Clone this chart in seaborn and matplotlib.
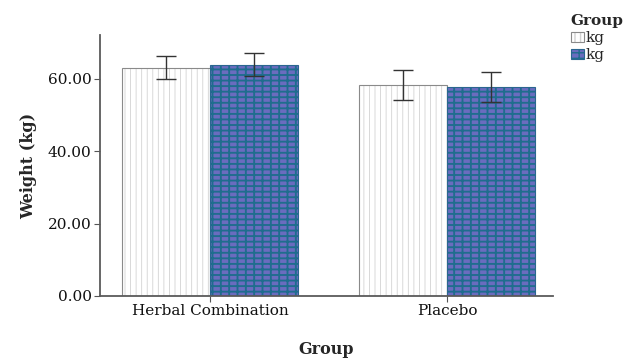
import pandas as pd
import matplotlib.pyplot as plt
import seaborn as sns
from matplotlib.colors import to_rgba
from matplotlib.ticker import FormatStrFormatter

groups = ["Herbal Combination", "Placebo"]
series = ["kg (1)", "kg (2)"]
legend_labels = ["kg", "kg"]
means_1 = [63.0, 58.3]
means_2 = [63.8, 57.6]
errs_1 = [3.1, 4.2]
errs_2 = [3.2, 4.1]


def plot_data():
  rows = []
  for g, m1, m2 in zip(groups, means_1, means_2):
    rows.append({"Group": g, "Series": series[0], "Weight": m1})
    rows.append({"Group": g, "Series": series[1], "Weight": m2})
  df = pd.DataFrame(rows)

  sns.set_style("white")
  plt.rcParams['font.family'] = ['DejaVu Serif']

  fig = plt.figure(figsize=(6.27, 3.58), dpi=100)
  ax = fig.add_axes([0.1595, 0.1732, 0.7225, 0.7288])

  sns.barplot(data=df, x="Group", y="Weight", hue="Series", hue_order=series,
              palette=["white", "#5c5ecd"], errorbar=None, width=0.742,
              gap=0, legend=False, ax=ax)

  # fill patterns: light dotted lines on white bars, teal grid on blue bars
  styles = [("#8a8a8a", "|||", "#d2d2d2", 0.6),
            ("#2a6690", "++-", "#1f6d8e", 1.35)]
  for cont, (edge, hatch, hcol, hlw) in zip(ax.containers, styles):
    for bar in cont:
      bar.set_edgecolor(edge)
      bar.set_linewidth(0.8)
      bar.set_hatch(hatch)
      bar._hatch_color = to_rgba(hcol)
      if hasattr(bar, "set_hatch_linewidth"):
        bar.set_hatch_linewidth(hlw)

  # error bars at the bar centres
  for cont, errs in zip(ax.containers, [errs_1, errs_2]):
    for bar, e in zip(cont, errs):
      xc = bar.get_x() + bar.get_width() / 2
      ax.errorbar(xc, bar.get_height(), yerr=e, color="#333333",
                  lw=1.0, capsize=7.5, capthick=1.0)

  ax.set_ylim(0, 72)
  ax.set_xlim(-0.464, 1.447)
  ax.yaxis.set_major_formatter(FormatStrFormatter("%.2f"))
  ax.set_yticks([0, 20, 40, 60])
  ax.tick_params(axis="both", labelsize=11, length=4, width=0.8,
                 direction="out", bottom=True, left=True,
                 colors="#555555", labelcolor="#111111", pad=2)

  for s in ["top", "right"]:
    ax.spines[s].set_visible(False)
  for s in ["left", "bottom"]:
    ax.spines[s].set_color("#5a5a5a")
    ax.spines[s].set_linewidth(1.3)

  ax.set_ylabel("Weight (kg)", fontsize=11.5, fontweight="bold", labelpad=8)
  ax.set_xlabel("Group", fontsize=11.5, fontweight="bold", labelpad=16)

  handles = [c[0] for c in ax.containers]
  leg = fig.legend(handles, legend_labels, title="Group", loc="upper left",
                   bbox_to_anchor=(0.893, 0.99), frameon=False, fontsize=11,
                   title_fontproperties={"weight": "bold", "size": 11},
                   handlelength=0.9, handleheight=0.55, handletextpad=0.1,
                   labelspacing=0.2, borderpad=0.2)
  leg._legend_box.align = "left"

  fig.savefig("out.png", dpi=100)


def main():
  plot_data()


if __name__ == '__main__':
  main()
